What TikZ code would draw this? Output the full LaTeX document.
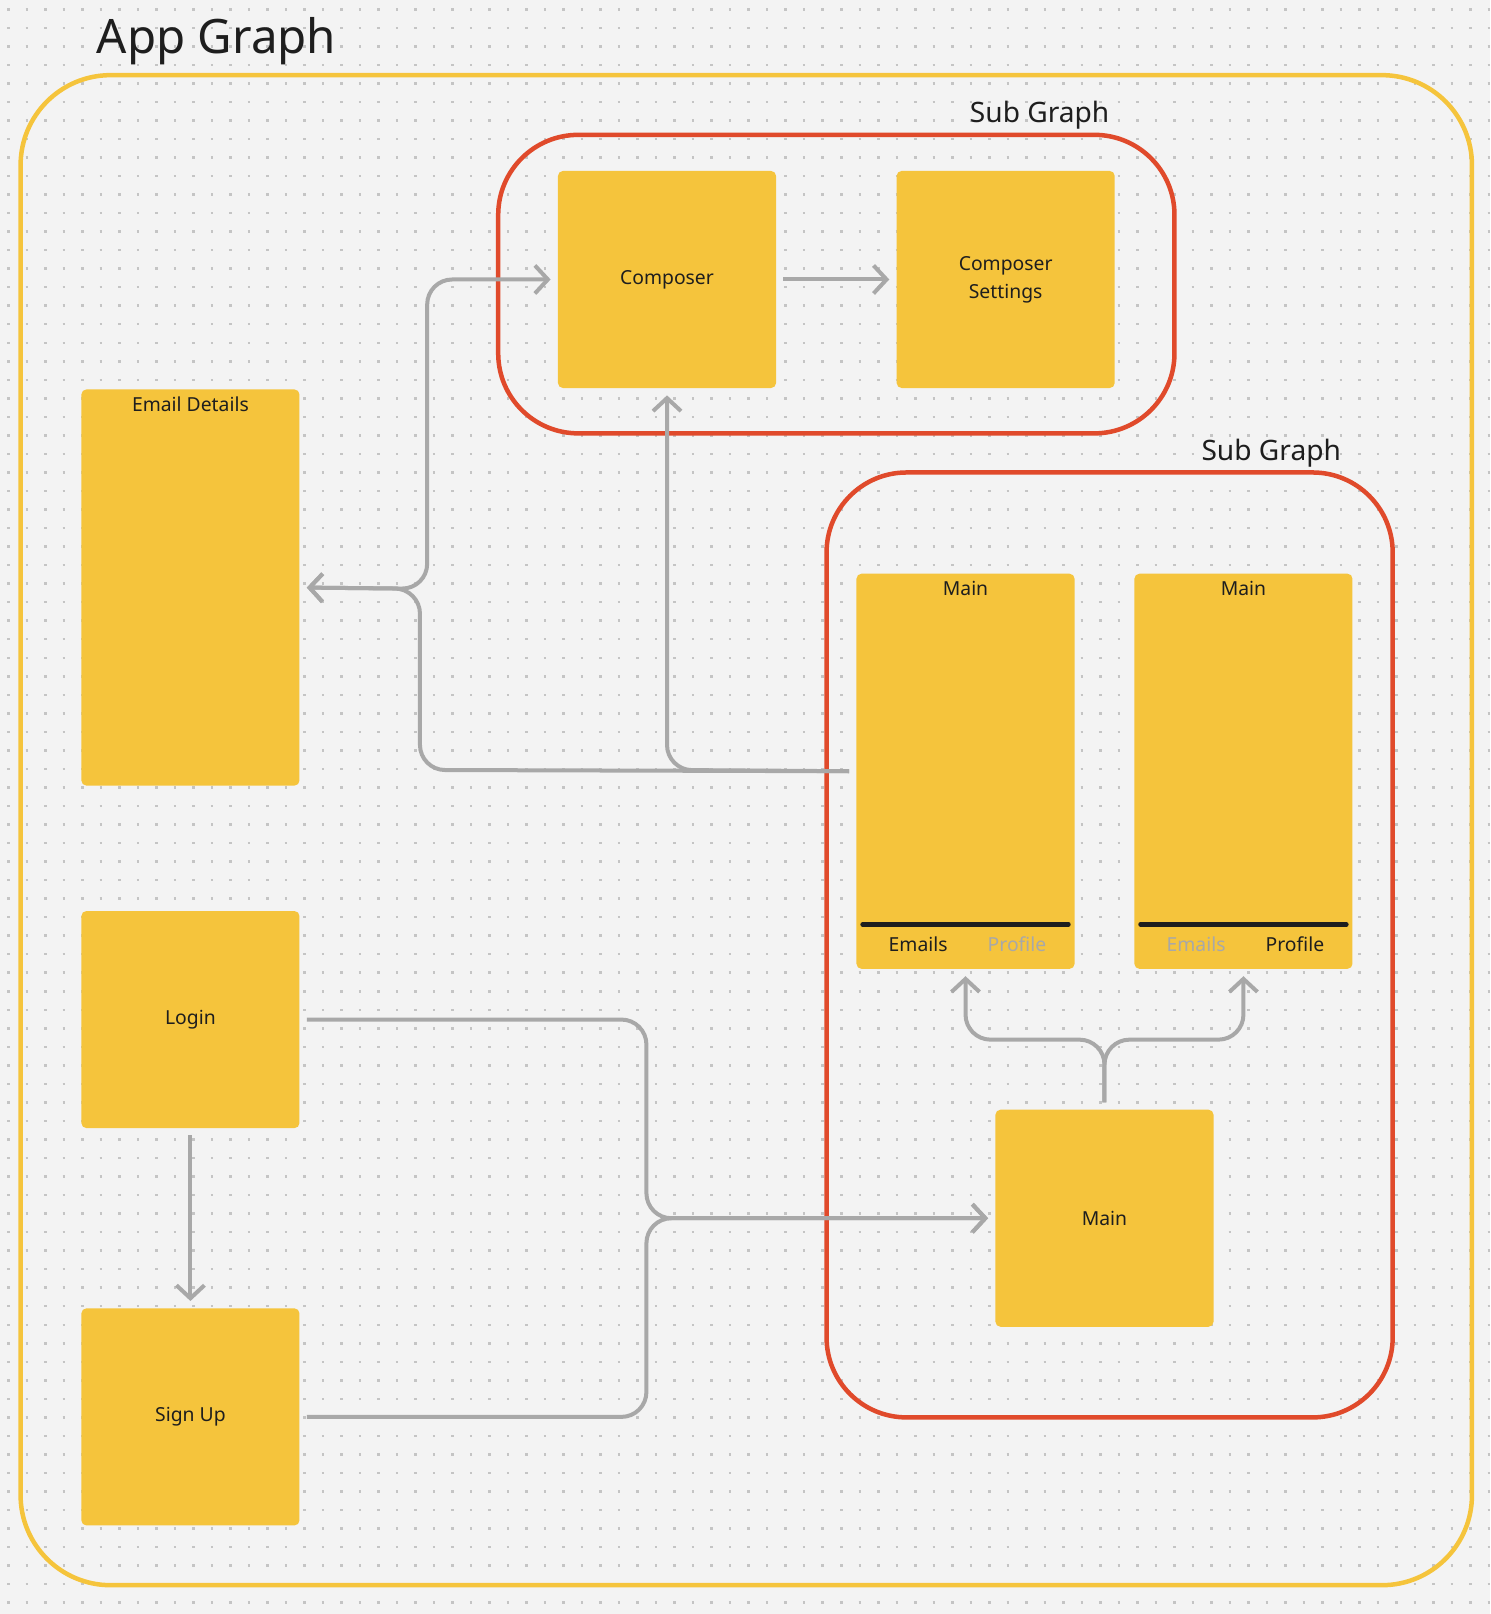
\documentclass[tikz,border=0pt]{standalone}
\usepackage{fontspec}
\setmainfont{Noto Sans}
\usetikzlibrary{arrows.meta}
\definecolor{bgc}{HTML}{F3F3F3}
\definecolor{dotc}{HTML}{C4C4C4}
\definecolor{boxc}{HTML}{F5C43C}
\definecolor{redc}{HTML}{E04A2B}
\definecolor{edgec}{HTML}{A8A8A8}
\definecolor{txtc}{HTML}{1E1E1E}
\begin{document}
\begin{tikzpicture}[x=0.2058mm,y=-0.2058mm,
	screen/.style={fill=boxc,rounded corners=1mm,minimum width=43.6mm,inner sep=0pt,text=txtc,font=\fontsize{11}{13}\selectfont,align=center},
	edge/.style={draw=edgec,line width=0.8mm,rounded corners=5mm,-{Straight Barb[length=2.6mm,width=5.6mm]},shorten >=1.4mm,shorten <=1.4mm},
	group/.style={line width=0.9mm,rounded corners=16mm}]
	% background
	\useasboundingbox (0,0) rectangle (1448,1568);
	\fill[bgc] (0,0) rectangle (1448,1568);
	\foreach \j in {0,...,87}
		\draw[dotc,line width=0.5mm,dash pattern=on 0.5mm off 3.2mm] (7,\j*18+9) -- (1448,\j*18+9);
	\node[anchor=west,text=txtc,font=\fontsize{27}{30}\selectfont] (title) at (88,40) {App Graph};
	\draw[group,draw=boxc,rounded corners=18mm] (20,73) rectangle (1430,1540);
	% sub graphs
	\draw[group,draw=redc] (484,131) rectangle (1141,421);
	\node[text=txtc,font=\fontsize{16}{19}\selectfont] (subA) at (1010,112) {Sub Graph};
	\draw[group,draw=redc] (803,459) rectangle (1353,1377);
	\node[text=txtc,font=\fontsize{16}{19}\selectfont] (subB) at (1235,440) {Sub Graph};
	% screens
	\node[screen,minimum height=43.4mm] (comp) at (648,271.5) {Composer};
	\node[screen,minimum height=43.4mm] (compset) at (977,271.5) {Composer\\[3pt]Settings};
	\node[screen,minimum height=79.2mm,anchor=north] (email) at (185,378) {};
	\node[text=txtc,font=\fontsize{11}{13}\selectfont] (emailT) at (185,393) {Email Details};
	\node[screen,minimum height=79mm,anchor=north] (mainA) at (938,557) {};
	\node[screen,minimum height=79mm,anchor=north] (mainB) at (1208,557) {};
	\node[screen,minimum height=43.4mm] (main) at (1073,1183.5) {Main};
	\node[screen,minimum height=43.4mm] (login) at (185,990.5) {Login};
	\node[screen,minimum height=43.4mm] (signup) at (185,1376.5) {Sign Up};
	% tab bars
	\node[text=txtc,font=\fontsize{11}{13}\selectfont] (mainAT) at (938,572) {Main};
	\node[text=txtc,font=\fontsize{11}{13}\selectfont] (mainBT) at (1208,572) {Main};
	\draw[txtc,line width=0.9mm,line cap=round] (838,898) -- (1038,898);
	\draw[txtc,line width=0.9mm,line cap=round] (1108,898) -- (1308,898);
	\node[text=txtc,font=\fontsize{11}{13}\selectfont] (tabA1) at (892,917) {Emails};
	\node[text=edgec,font=\fontsize{11}{13}\selectfont] (tabA2) at (988,917) {Profile};
	\node[text=edgec,font=\fontsize{11}{13}\selectfont] (tabB1) at (1162,917) {Emails};
	\node[text=txtc,font=\fontsize{11}{13}\selectfont] (tabB2) at (1258,917) {Profile};
	% connectors
	\draw[edge] (comp.east) -- (compset.west);
	\draw[edge] (mainA.west) -- (648,748) -- (comp.south);
	\draw[edge] (mainA.west) -- (408,748) -- (408,572) -- (email.east);
	\draw[edge,{Straight Barb[length=2.6mm,width=5.6mm]}-{Straight Barb[length=2.6mm,width=5.6mm]}] (email.east) -- (415,572) -- (415,271.5) -- (comp.west);
	\draw[edge] (main.north) -- (1073,1010) -- (938,1010) -- (mainA.south);
	\draw[edge] (main.north) -- (1073,1010) -- (1208,1010) -- (mainB.south);
	\draw[edge] (login.east) -- (628,990.5) -- (628,1183.5) -- (main.west);
	\draw[edge] (signup.east) -- (628,1376.5) -- (628,1183.5) -- (main.west);
	\draw[edge,rounded corners=0pt] (login.south) -- (signup.north);
\end{tikzpicture}
\end{document}
